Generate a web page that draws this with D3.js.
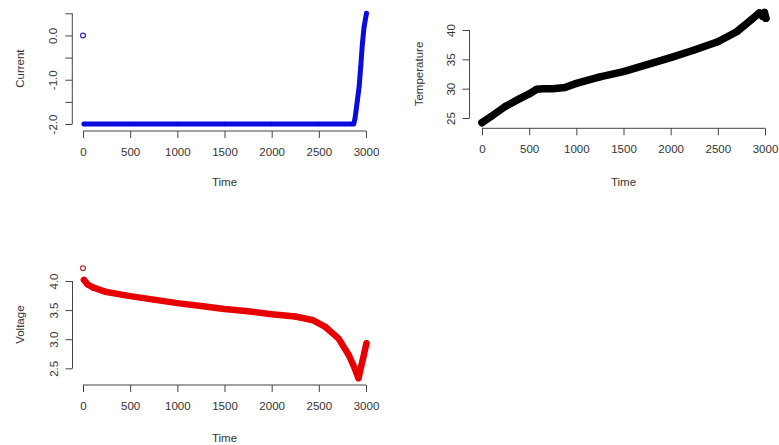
<!DOCTYPE html>
<html>
<head>
<meta charset="utf-8">
<script src="https://cdn.jsdelivr.net/npm/d3@7"></script>
<style>
  body { margin: 0; background: #fff; }
  svg { display: block; font-family: "Liberation Sans", Arial, sans-serif; }
</style>
</head>
<body>
<svg id="chart"></svg>
<script>
// tick values
const timeTicks = [0, 500, 1000, 1500, 2000, 2500, 3000];
const currentTicks = [0.5, 0, -0.5, -1, -1.5, -2];
const currentTickLabels = ["", "0.0", "", "-1.0", "", "-2.0"];
const tempTicks = [25, 30, 35, 40];
const tempTickLabels = ["25", "30", "35", "40"];
const voltTicks = [2.5, 3, 3.5, 4];
const voltTickLabels = ["2.5", "3.0", "3.5", "4.0"];

// current (A)
const currentFirstTime = [0];
const currentFirstValue = [0.0];
const currentTime = [10, 500, 1000, 1500, 2000, 2500, 2870, 2884, 2909, 2927, 2944, 2962, 2980, 3005];
const currentValue = [-2, -2, -2, -2, -2, -2, -2, -1.87, -1.46, -1.16, -0.71, -0.18, 0.2, 0.5];

// temperature
const tempTime = [0, 100, 250, 400, 500, 580, 650, 750, 880, 1000, 1250, 1500, 1750, 2000, 2250, 2500, 2700, 2850, 2940, 2975, 2995, 3010];
const tempValue = [24.2, 25.3, 27.0, 28.3, 29.1, 29.9, 30.0, 30.0, 30.2, 30.9, 32.0, 32.9, 34.1, 35.3, 36.6, 38.0, 39.7, 41.7, 42.9, 42.3, 43.0, 42.0];

// voltage
const voltFirstTime = [0];
const voltFirstValue = [4.22];
const voltTime = [10, 50, 110, 250, 500, 750, 1000, 1250, 1500, 1750, 2000, 2250, 2430, 2570, 2710, 2820, 2880, 2920, 2960, 3005];
const voltValue = [4.02, 3.94, 3.885, 3.81, 3.74, 3.68, 3.62, 3.57, 3.52, 3.48, 3.43, 3.39, 3.33, 3.21, 3.01, 2.72, 2.50, 2.33, 2.61, 2.93];

class ScatterPanel {

    constructor( config ) {
        this.config = config;
        this.init();
    }

    init() {
        let self = this;
        const c = self.config;

        self.g = c.svg.append('g');

        self.xscale = d3.scaleLinear()
            .domain([0, 3000])
            .range([c.x0, c.x1]);

        self.yscale = d3.scaleLinear()
            .domain([c.yticks[0], c.yticks[c.yticks.length - 1]])
            .range([c.yb, c.yt]);

        self.xaxis = d3.axisBottom(self.xscale)
            .tickValues(timeTicks)
            .tickSize(7)
            .tickPadding(10)
            .tickFormat(d3.format('d'));

        self.yaxis = d3.axisLeft(self.yscale)
            .tickValues(c.yticks)
            .tickSize(7)
            .tickFormat((d, i) => c.ylabels[i]);
    }

    render() {
        let self = this;
        const c = self.config;

        const xg = self.g.append('g')
            .attr('transform', `translate(0, ${c.xaxisY})`)
            .call(self.xaxis);
        const yg = self.g.append('g')
            .attr('transform', `translate(${c.yaxisX}, 0)`)
            .call(self.yaxis);

        [xg, yg].forEach(a => {
            a.select('.domain').attr('stroke', '#444');
            a.selectAll('.tick line').attr('stroke', '#444');
            a.selectAll('.tick text').attr('fill', '#333').attr('font-size', '11.5px');
        });
        // R-style axis line: from first to last tick only
        xg.select('.domain')
            .attr('d', `M${self.xscale(timeTicks[0])},0H${self.xscale(timeTicks[timeTicks.length - 1])}`);
        yg.select('.domain')
            .attr('d', `M0,${self.yscale(c.yticks[0])}V${self.yscale(c.yticks[c.yticks.length - 1])}`);

        // rotated y tick labels, like R's default
        yg.selectAll('.tick text')
            .attr('x', null)
            .attr('text-anchor', 'middle')
            .attr('transform', 'translate(-19, 0) rotate(-90)')
            .attr('dy', '0.35em');

        const pts = c.time.map((t, i) => [t, c.value[i]]);
        const line = d3.line()
            .x(d => self.xscale(d[0]))
            .y(d => self.yscale(d[1]));

        self.g.append('path')
            .datum(pts)
            .attr('d', line)
            .attr('fill', 'none')
            .attr('stroke', c.color)
            .attr('stroke-width', c.band)
            .attr('stroke-linejoin', 'round')
            .attr('stroke-linecap', 'round');

        self.g.selectAll('circle.pt')
            .data(pts)
            .join('circle')
            .attr('class', 'pt')
            .attr('cx', d => self.xscale(d[0]))
            .attr('cy', d => self.yscale(d[1]))
            .attr('r', c.band / 2 - 0.3)
            .attr('fill', c.color);

        if (c.firstTime) {
            self.g.selectAll('circle.first')
                .data(c.firstTime.map((t, i) => [t, c.firstValue[i]]))
                .join('circle')
                .attr('class', 'first')
                .attr('cx', d => self.xscale(d[0]))
                .attr('cy', d => self.yscale(d[1]))
                .attr('r', 2.4)
                .attr('fill', 'none')
                .attr('stroke', c.firstColor)
                .attr('stroke-width', 1.2);
        }

        self.g.append('text')
            .attr('x', (c.x0 + c.x1) / 2)
            .attr('y', c.timeY)
            .attr('text-anchor', 'middle')
            .attr('dy', '0.35em')
            .attr('font-size', '11.5px')
            .attr('fill', '#333')
            .text('Time');

        self.g.append('text')
            .attr('transform', `translate(${c.ylabelX}, ${(c.yt + c.yb) / 2}) rotate(-90)`)
            .attr('text-anchor', 'middle')
            .attr('dy', '0.35em')
            .attr('font-size', '11.5px')
            .attr('fill', '#333')
            .text(c.ylabel);
    }
}

const svg = d3.select('#chart')
    .attr('width', 779)
    .attr('height', 445);

const panels = [
    new ScatterPanel({
        svg: svg, x0: 83, x1: 366, yt: 13.3, yb: 124, xaxisY: 131, yaxisX: 72.3, ylabelX: 20, timeY: 182,
        yticks: currentTicks.slice().reverse(), ylabels: currentTickLabels.slice().reverse(),
        time: currentTime, value: currentValue, color: '#0b0be0', band: 5,
        firstTime: currentFirstTime, firstValue: currentFirstValue, firstColor: '#3030a8',
        ylabel: 'Current'
    }),
    new ScatterPanel({
        svg: svg, x0: 482, x1: 765, yt: 30, yb: 118, xaxisY: 128.3, yaxisX: 469.5, ylabelX: 419, timeY: 182,
        yticks: tempTicks, ylabels: tempTickLabels,
        time: tempTime, value: tempValue, color: '#000', band: 7.5,
        ylabel: 'Temperature'
    }),
    new ScatterPanel({
        svg: svg, x0: 83, x1: 366, yt: 281, yb: 368.3, xaxisY: 385, yaxisX: 72.5, ylabelX: 20, timeY: 438,
        yticks: voltTicks, ylabels: voltTickLabels,
        time: voltTime, value: voltValue, color: '#e80000', band: 6.5,
        firstTime: voltFirstTime, firstValue: voltFirstValue, firstColor: '#b03030',
        ylabel: 'Voltage'
    })
];

panels.forEach(p => p.render());
</script>
</body>
</html>
